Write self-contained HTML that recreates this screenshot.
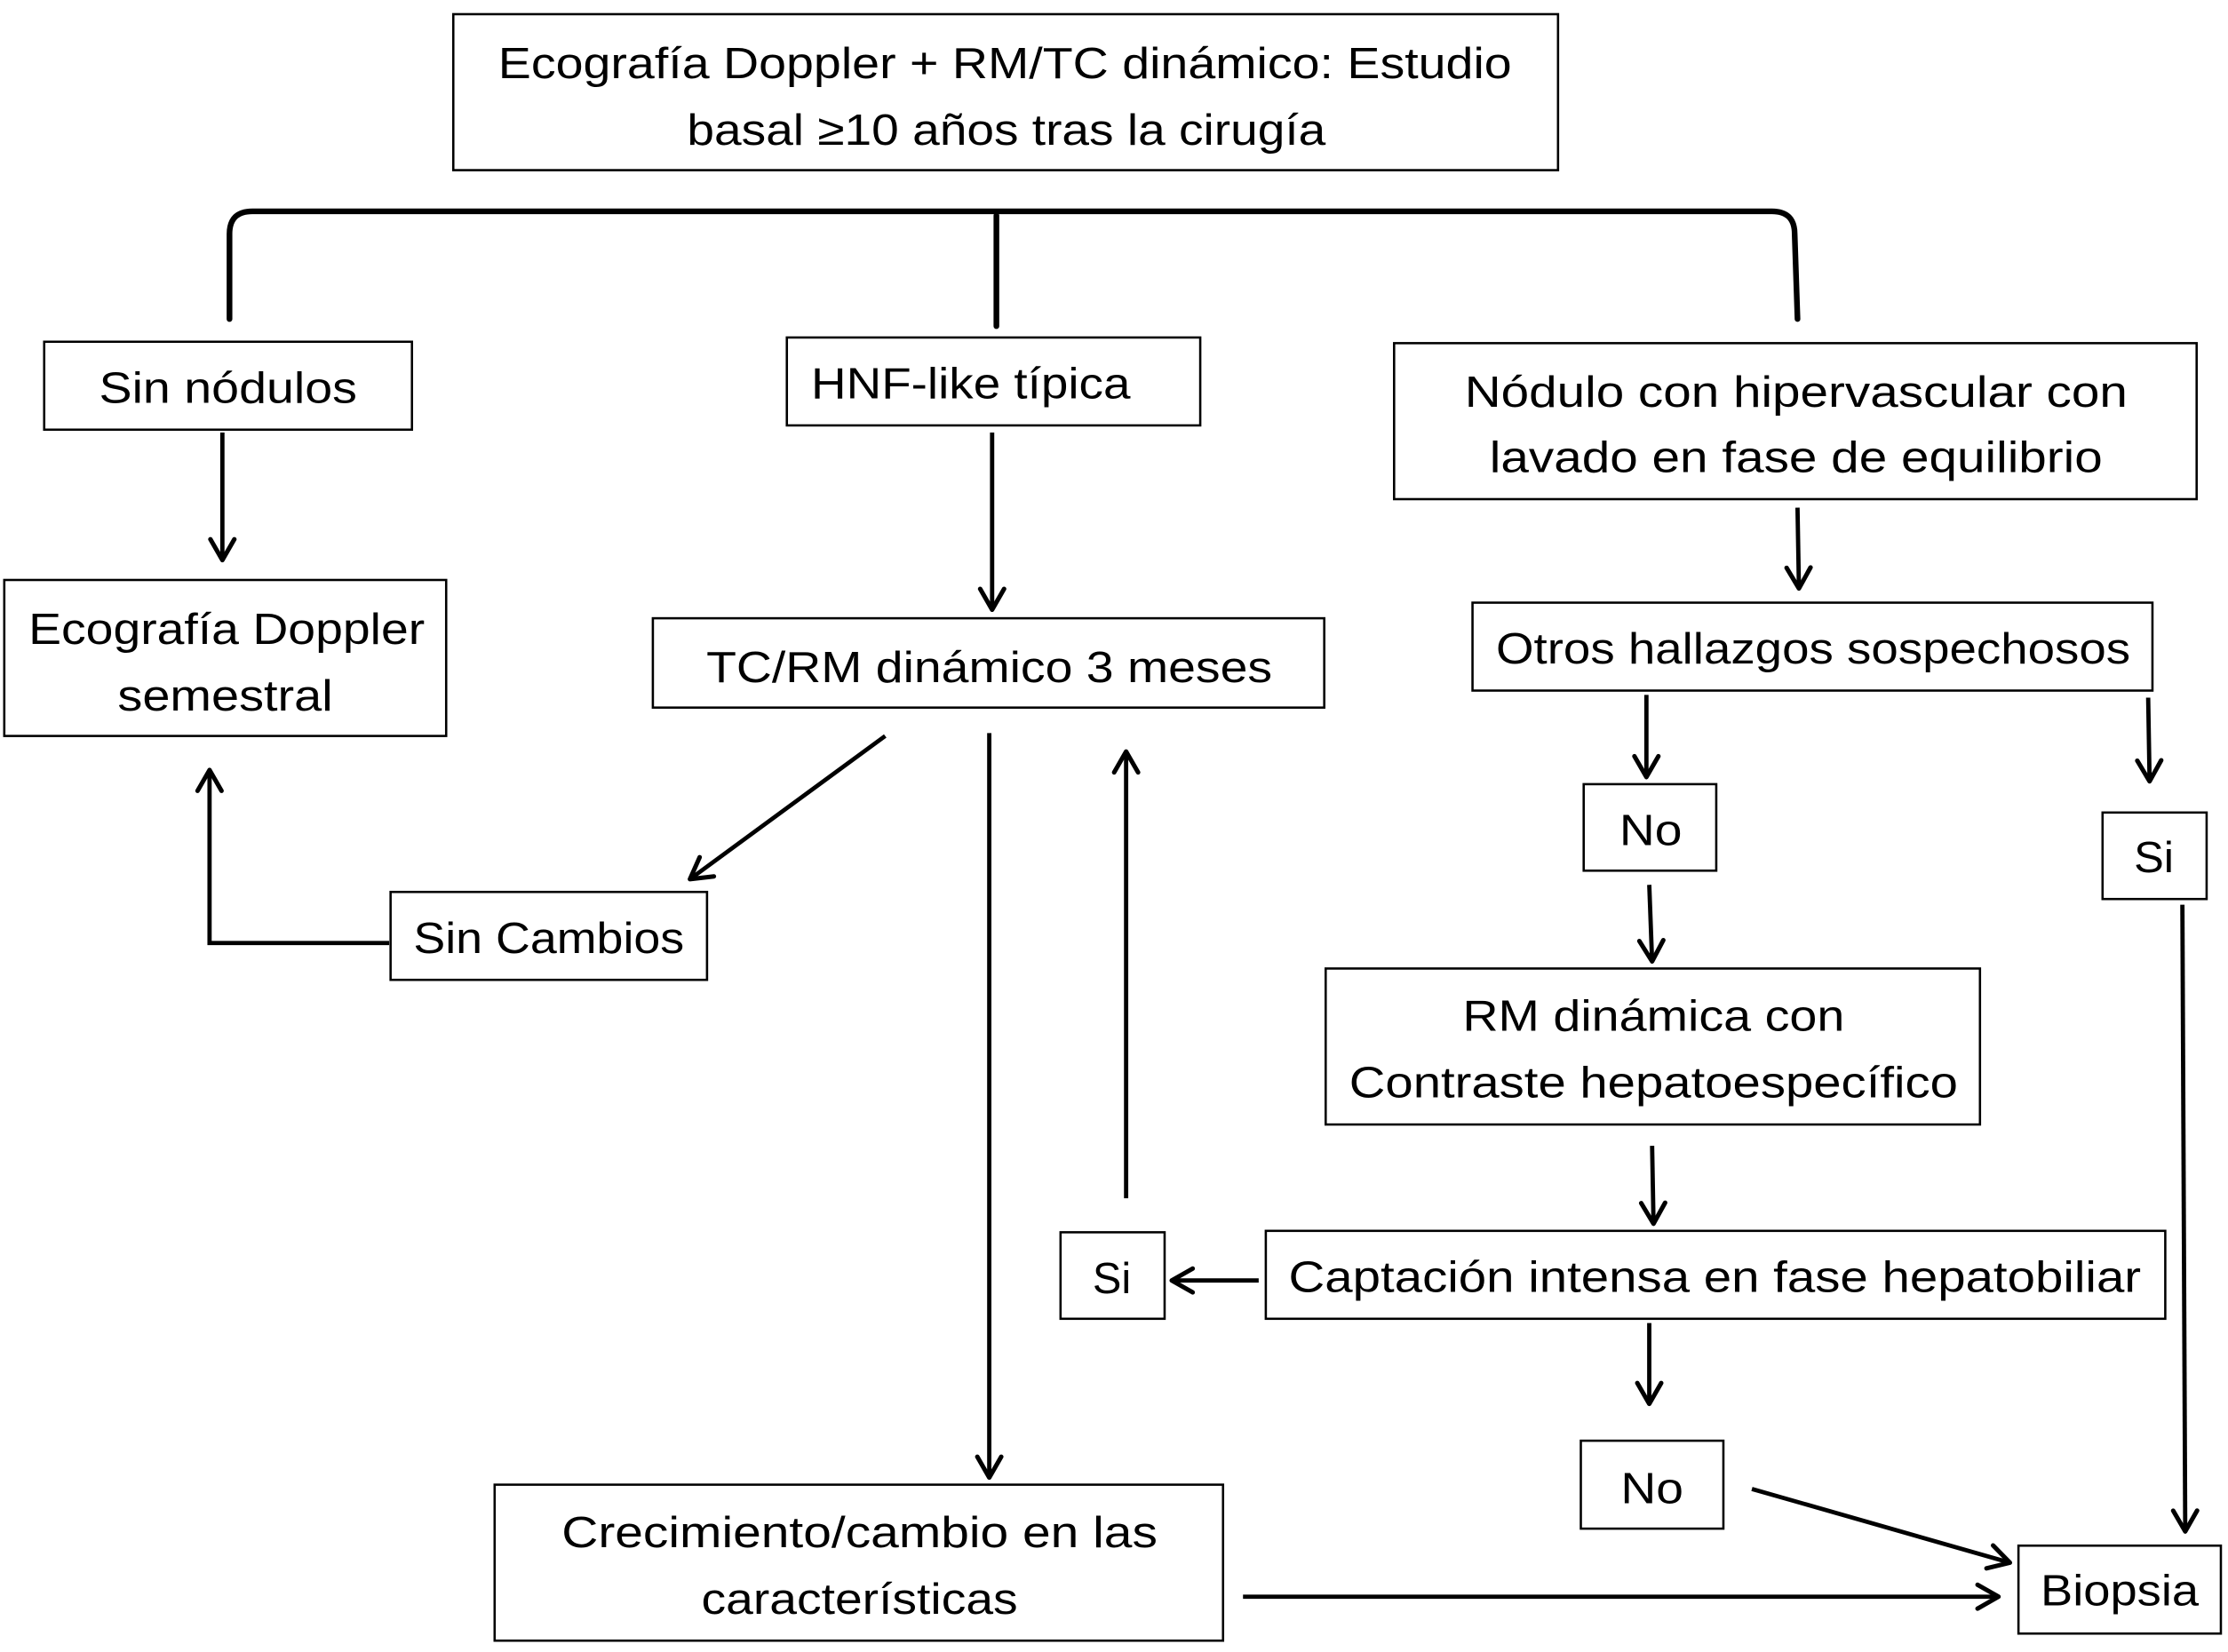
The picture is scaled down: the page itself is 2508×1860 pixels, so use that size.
<!DOCTYPE html>
<html><head><meta charset="utf-8"><style>html,body{margin:0;padding:0;background:#fff;}svg{display:block;}</style></head>
<body>
<svg width="2508" height="1860" viewBox="0 0 1563 1165" preserveAspectRatio="none" xmlns="http://www.w3.org/2000/svg">
<defs>
<marker id="a" viewBox="0 0 20 20" refX="17" refY="10" markerWidth="7" markerHeight="7" orient="auto" markerUnits="strokeWidth">
<path d="M3,2 L17,10 L3,18" fill="none" stroke="#000" stroke-width="3" stroke-linecap="round" stroke-linejoin="round"/>
</marker>
</defs>
<g fill="#fff" stroke="#000" stroke-width="1.6">
<rect x="318" y="10" width="775" height="110"/>
<rect x="31" y="241" width="258" height="62"/>
<rect x="552" y="238" width="290" height="62"/>
<rect x="978" y="242" width="563" height="110"/>
<rect x="3" y="409" width="310" height="110"/>
<rect x="458" y="436" width="471" height="63"/>
<rect x="1033" y="425" width="477" height="62"/>
<rect x="1111" y="553" width="93" height="61"/>
<rect x="1475" y="573" width="73" height="61"/>
<rect x="274" y="629" width="222" height="62"/>
<rect x="930" y="683" width="459" height="110"/>
<rect x="744" y="869" width="73" height="61"/>
<rect x="888" y="868" width="631" height="62"/>
<rect x="1109" y="1016" width="100" height="62"/>
<rect x="347" y="1047" width="511" height="110"/>
<rect x="1416" y="1090" width="142" height="62"/>
</g>
<g fill="none" stroke="#000" stroke-width="4" stroke-linecap="round">
<path d="M161,225 L161,165 Q161,149 177,149 L1243,149 Q1259,149 1259,165 L1261,225"/>
<line x1="699" y1="152" x2="699" y2="230"/>
</g>
<g fill="none" stroke="#000" stroke-width="3" marker-end="url(#a)">
<line x1="156" y1="305" x2="156" y2="395"/>
<line x1="696" y1="305" x2="696" y2="430"/>
<line x1="1261" y1="358" x2="1262" y2="415"/>
<line x1="1155" y1="490" x2="1155" y2="548"/>
<line x1="1507" y1="492" x2="1508" y2="551"/>
<line x1="1157" y1="624" x2="1159" y2="678"/>
<line x1="1159" y1="808" x2="1160" y2="863"/>
<line x1="883" y1="903" x2="822" y2="903"/>
<line x1="1157" y1="933" x2="1157" y2="990"/>
<line x1="621" y1="519" x2="484" y2="620"/>
<polyline points="273,665 147,665 147,543"/>
<line x1="790" y1="845" x2="790" y2="530"/>
<line x1="694" y1="517" x2="694" y2="1042"/>
<line x1="1531" y1="638" x2="1533" y2="1080"/>
<line x1="1229" y1="1050" x2="1410" y2="1102"/>
<line x1="872" y1="1126" x2="1402" y2="1126"/>
</g>
<g font-family="'Liberation Sans', sans-serif" font-size="31" text-anchor="middle" fill="#000">
<text x="705" y="55" textLength="711" lengthAdjust="spacingAndGlyphs">Ecografía Doppler + RM/TC dinámico: Estudio</text>
<text x="706" y="102" textLength="448" lengthAdjust="spacingAndGlyphs">basal ≥10 años tras la cirugía</text>
<text x="160" y="284" textLength="181" lengthAdjust="spacingAndGlyphs">Sin nódulos</text>
<text x="681" y="281" textLength="224" lengthAdjust="spacingAndGlyphs">HNF-like típica</text>
<text x="1260" y="287" textLength="465" lengthAdjust="spacingAndGlyphs">Nódulo con hipervascular con</text>
<text x="1260" y="333" textLength="430" lengthAdjust="spacingAndGlyphs">lavado en fase de equilibrio</text>
<text x="159" y="454" textLength="278" lengthAdjust="spacingAndGlyphs">Ecografía Doppler</text>
<text x="158" y="501" textLength="151" lengthAdjust="spacingAndGlyphs">semestral</text>
<text x="694" y="481" textLength="397" lengthAdjust="spacingAndGlyphs">TC/RM dinámico 3 meses</text>
<text x="1272" y="468" textLength="445" lengthAdjust="spacingAndGlyphs">Otros hallazgos sospechosos</text>
<text x="1158" y="596" textLength="44" lengthAdjust="spacingAndGlyphs">No</text>
<text x="1511" y="615" textLength="28" lengthAdjust="spacingAndGlyphs">Si</text>
<text x="385" y="672" textLength="190" lengthAdjust="spacingAndGlyphs">Sin Cambios</text>
<text x="1160" y="727" textLength="268" lengthAdjust="spacingAndGlyphs">RM dinámica con</text>
<text x="1160" y="774" textLength="427" lengthAdjust="spacingAndGlyphs">Contraste hepatoespecífico</text>
<text x="780" y="912" textLength="27" lengthAdjust="spacingAndGlyphs">Si</text>
<text x="1203" y="911" textLength="598" lengthAdjust="spacingAndGlyphs">Captación intensa en fase hepatobiliar</text>
<text x="1159" y="1060" textLength="44" lengthAdjust="spacingAndGlyphs">No</text>
<text x="603" y="1091" textLength="418" lengthAdjust="spacingAndGlyphs">Crecimiento/cambio en las</text>
<text x="603" y="1138" textLength="222" lengthAdjust="spacingAndGlyphs">características</text>
<text x="1487" y="1132" textLength="111" lengthAdjust="spacingAndGlyphs">Biopsia</text>
</g>
</svg>
</body></html>
